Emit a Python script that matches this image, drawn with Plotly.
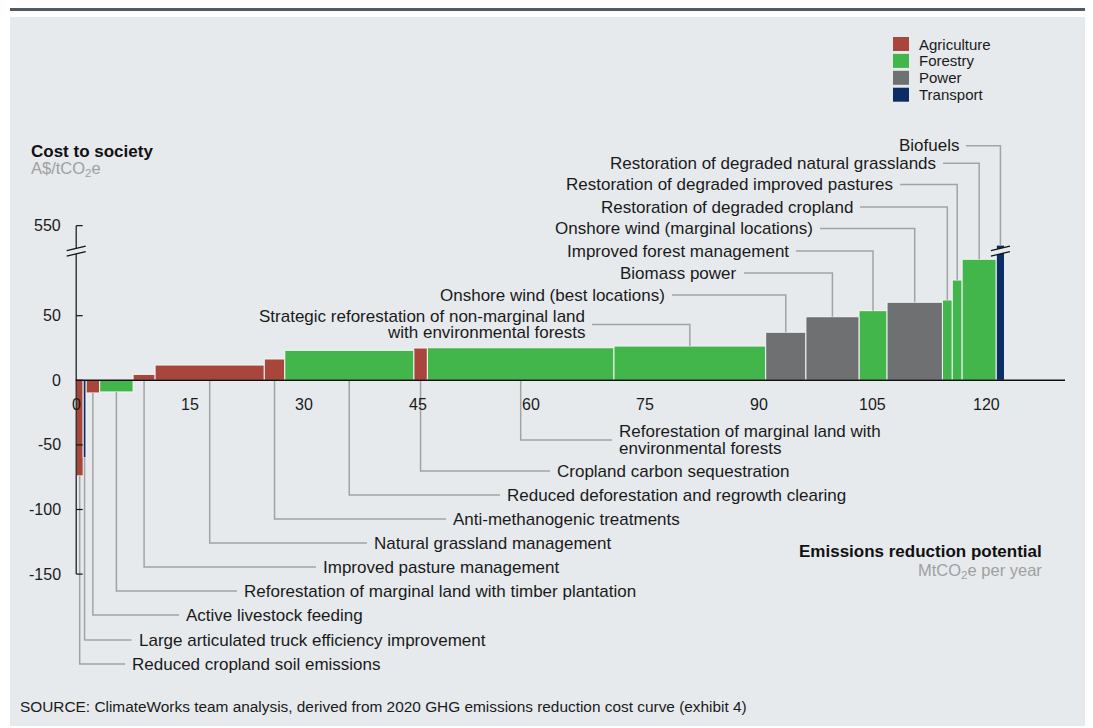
import plotly.graph_objects as go

# ---------------- data ----------------
measures = [
    "Reduced cropland soil emissions",
    "Large articulated truck efficiency improvement",
    "Active livestock feeding",
    "Reforestation of marginal land with timber plantation",
    "Improved pasture management",
    "Natural grassland management",
    "Anti-methanogenic treatments",
    "Reduced deforestation and regrowth clearing",
    "Cropland carbon sequestration",
    "Reforestation of marginal land with<br>environmental forests",
    "Strategic reforestation of non-marginal land<br>with environmental forests",
    "Onshore wind (best locations)",
    "Biomass power",
    "Improved forest management",
    "Onshore wind (marginal locations)",
    "Restoration of degraded cropland",
    "Restoration of degraded improved pastures",
    "Restoration of degraded natural grasslands",
    "Biofuels",
]
sectors = [
    "Agriculture", "Transport", "Agriculture", "Forestry", "Agriculture",
    "Agriculture", "Agriculture", "Forestry", "Agriculture", "Forestry",
    "Forestry", "Power", "Power", "Forestry", "Power",
    "Forestry", "Forestry", "Forestry", "Transport",
]
# abatement potential, MtCO2e per year (bar widths)
potential = [0.92, 0.37, 1.81, 4.4, 2.9, 14.4, 2.7, 17.0, 1.8, 24.6,
             20.0, 5.3, 7.0, 3.7, 7.3, 1.3, 1.3, 4.5, 1.1]
# cost to society, A$/tCO2e (bar heights)
cost = [-74, -60, -9.8, -9.0, 4.6, 11.8, 16.5, 23.2, 25.0, 25.2,
        26.5, 37.2, 49.2, 53.9, 60.4, 62.2, 77.6, 93.7, 207]

x_ticks = [0, 15, 30, 45, 60, 75, 90, 105, 120]
y_ticks = [-150, -100, -50, 0, 50, 550]

sector_order = ["Agriculture", "Forestry", "Power", "Transport"]
sector_colors = {"Agriculture": "#A8463B", "Forestry": "#42B54B",
                 "Power": "#6F7072", "Transport": "#0B2D63"}

# ---------------- scale helpers (screen pixel -> data) ----------------
OFF = 8                       # page body margin
X0_PX, XS = 76.2, 7.585       # screen pixel of x=0, pixels per unit
Y0_PX, YS = 380.3, 1.292      # screen pixel of y=0, pixels per unit
W, H = 1093 - OFF, 728 - OFF
BREAK = 100                   # axis break value
TOP_TICK_POS = 119.7          # displayed position of the 550 tick


def dx(px):
    return (px - X0_PX) / XS


def dy(py):
    return (Y0_PX - py) / YS


def disp(v):
    """broken y-axis: linear up to BREAK, compressed above"""
    if v <= BREAK:
        return v
    return BREAK + (v - BREAK) * (TOP_TICK_POS - BREAK) / (550 - BREAK)


# bar geometry from potentials
lefts, centers = [], []
acc = 0.0
for w in potential:
    lefts.append(acc)
    centers.append(acc + w / 2)
    acc += w
heights = [disp(c) for c in cost]

fig = go.Figure()
for s in sector_order:
    idx = [i for i, sec in enumerate(sectors) if sec == s]
    fig.add_trace(go.Bar(
        x=[centers[i] for i in idx], y=[heights[i] for i in idx],
        width=[potential[i] for i in idx], name=s,
        text=[measures[i] for i in idx], hoverinfo="text",
        textposition="none",
        marker=dict(color=sector_colors[s], line=dict(color="#F4F6F7", width=1)),
        showlegend=False))

shapes = []
ann = []
LEAD = dict(color="#A3A3A3", width=1.5)
FONT = "Liberation Sans, Arial, sans-serif"
BG = "#E6EAED"

# panel background & top rule
shapes.append(dict(type="rect", xref="x", yref="y", x0=dx(10), x1=dx(1086),
                   y0=dy(17), y1=dy(726), fillcolor=BG, line=dict(width=0),
                   layer="below"))
shapes.append(dict(type="line", xref="x", yref="y", x0=dx(10), x1=dx(1100),
                   y0=dy(9.6), y1=dy(9.6), line=dict(color="#4E5B63", width=3),
                   layer="below"))

# ---------------- leader labels ----------------
# (side, text anchor px x, line px y)
label_layout = [
    ("below", 130, 664), ("below", 136.5, 640), ("below", 184, 615),
    ("below", 242, 591), ("below", 321, 567), ("below", 372, 543),
    ("below", 451, 519), ("below", 505, 495), ("below", 555, 471),
    ("below", 617, 440), ("above", 587, 324.5), ("above", 667, 295),
    ("above", 739, 273), ("above", 791, 251), ("above", 815, 228.5),
    ("above", 855, 207), ("above", 895, 184.5), ("above", 938, 163.3),
    ("above", 961, 145.7),
]
GAP = 5
LAB_SIZE = 17
for i, (side, ax_px, ly_px) in enumerate(label_layout):
    xc = centers[i]
    ly = dy(ly_px)
    lines = measures[i].split("<br>")
    if side == "below":
        ystart = min(heights[i], 0)
        shapes.append(dict(type="path", xref="x", yref="y", line=LEAD,
                           path=f"M {xc} {ystart} L {xc} {ly} L {dx(ax_px - GAP)} {ly}"))
        xanchor = "left"
    else:
        shapes.append(dict(type="path", xref="x", yref="y", line=LEAD,
                           path=f"M {dx(ax_px + GAP)} {ly} L {xc} {ly} L {xc} {heights[i]}"))
        xanchor = "right"
    n = len(lines)
    for k, t in enumerate(lines):
        off = (k - (n - 1) / 2) * 16.5
        ann.append(dict(x=dx(ax_px), y=dy(ly_px + off), text=t, showarrow=False,
                        xanchor=xanchor, yanchor="middle",
                        font=dict(size=LAB_SIZE, color="#1A1A1A", family=FONT)))

# ---------------- axes ----------------
AX = dict(color="#111111", width=1.2)
# y-axis line
shapes.append(dict(type="line", xref="x", yref="y", x0=0, x1=0,
                   y0=disp(min(y_ticks)), y1=disp(max(y_ticks)), line=AX))
for v in y_ticks:
    shapes.append(dict(type="line", xref="x", yref="y", x0=0, x1=dx(X0_PX + 6.5),
                       y0=disp(v), y1=disp(v), line=AX))
    ann.append(dict(x=dx(62.5), y=disp(v), text=str(v), showarrow=False,
                    xanchor="right", yanchor="middle",
                    font=dict(size=16, color="#1A1A1A", family=FONT)))
# x-axis line
shapes.append(dict(type="line", xref="x", yref="y", x0=dx(X0_PX - 0.5), x1=dx(1065),
                   y0=0, y1=0, line=dict(color="#111111", width=1.5)))
for v in x_ticks:
    ann.append(dict(x=v, y=dy(404), text=str(v), showarrow=False,
                    xanchor="center", yanchor="middle",
                    font=dict(size=16, color="#1A1A1A", family=FONT)))


# break marks (on y axis and on the Biofuels bar)
def break_mark(xc, half_px):
    x0, x1 = xc - half_px / XS, xc + half_px / XS
    yb = BREAK + 0.0
    s = 4.5 / YS        # slant (rise across the mark)
    g = 5.5 / YS        # gap between the two strokes
    lo0, lo1 = yb - g / 2 - s / 2, yb - g / 2 + s / 2
    hi0, hi1 = yb + g / 2 - s / 2, yb + g / 2 + s / 2
    shapes.append(dict(type="path", xref="x", yref="y", fillcolor=BG,
                       line=dict(width=0),
                       path=f"M {x0} {lo0} L {x1} {lo1} L {x1} {hi1} L {x0} {hi0} Z"))
    for a, b in ((lo0, lo1), (hi0, hi1)):
        shapes.append(dict(type="line", xref="x", yref="y", x0=x0, x1=x1, y0=a, y1=b,
                           line=dict(color="#111111", width=1.2)))


break_mark(0, 9.5)
break_mark(centers[-1], 9.5)

# ---------------- titles ----------------
ann.append(dict(x=dx(29), y=dy(151.5), text="<b>Cost to society</b>", showarrow=False,
                xanchor="left", yanchor="middle",
                font=dict(size=17, color="#111111", family=FONT)))
ann.append(dict(x=dx(29), y=dy(169), text="A$/tCO<sub>2</sub>e", showarrow=False,
                xanchor="left", yanchor="middle",
                font=dict(size=16.5, color="#A0A0A0", family=FONT)))
ann.append(dict(x=dx(1044), y=dy(551.5), text="<b>Emissions reduction potential</b>",
                showarrow=False, xanchor="right", yanchor="middle",
                font=dict(size=17, color="#111111", family=FONT)))
ann.append(dict(x=dx(1044), y=dy(571), text="MtCO<sub>2</sub>e per year",
                showarrow=False, xanchor="right", yanchor="middle",
                font=dict(size=16.5, color="#A0A0A0", family=FONT)))
ann.append(dict(x=dx(18), y=dy(706),
                text="SOURCE: ClimateWorks team analysis, derived from 2020 GHG emissions "
                     "reduction cost curve (exhibit 4)",
                showarrow=False, xanchor="left", yanchor="middle",
                font=dict(size=15.4, color="#1A1A1A", family=FONT)))

# ---------------- legend ----------------
for k, s in enumerate(sector_order):
    cy = 44 + k * 16.9
    shapes.append(dict(type="rect", xref="x", yref="y", x0=dx(893), x1=dx(909),
                       y0=dy(cy - 7), y1=dy(cy + 7), fillcolor=sector_colors[s],
                       line=dict(width=0)))
    ann.append(dict(x=dx(916.5), y=dy(cy), text=s, showarrow=False, xanchor="left",
                    yanchor="middle", font=dict(size=15, color="#1A1A1A", family=FONT)))

fig.update_layout(
    width=W, height=H, margin=dict(l=0, r=0, t=0, b=0),
    paper_bgcolor="white", plot_bgcolor="white", barmode="overlay",
    xaxis=dict(range=[dx(OFF), dx(OFF + W)], visible=False, fixedrange=True),
    yaxis=dict(range=[dy(OFF + H), dy(OFF)], visible=False, fixedrange=True),
    shapes=shapes, annotations=ann, showlegend=False,
)
fig.write_html("out.html")
